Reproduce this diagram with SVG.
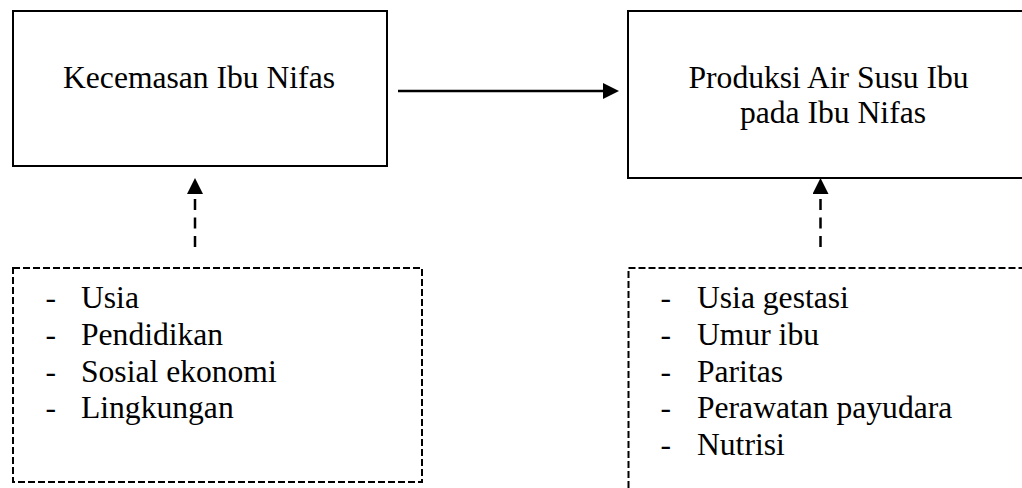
<svg xmlns="http://www.w3.org/2000/svg" width="1022" height="488" viewBox="0 0 1022 488">
<style>
.box{fill:none;stroke:#000;stroke-width:2}
.dbox{fill:none;stroke:#000;stroke-width:2;stroke-dasharray:7 3}
.solid{stroke:#000;stroke-width:2.5;fill:none}
.dash{stroke:#000;stroke-width:2.5;fill:none;stroke-dasharray:11 7.5}
</style>
<defs>
<marker id="ah" markerUnits="userSpaceOnUse" markerWidth="16" markerHeight="16" refX="0" refY="7.5" orient="auto" viewBox="0 0 15 15">
<path d="M0,0 L15,7.5 L0,15 z" fill="#000"/>
</marker>
</defs>
<rect width="1022" height="488" fill="#fff"/>
<g id="connectors">
<line class="solid" x1="398" y1="91" x2="603" y2="91" marker-end="url(#ah)"/>
<line class="dash" x1="195" y1="247" x2="195" y2="194" marker-end="url(#ah)"/>
<line class="dash" x1="820.5" y1="247" x2="820.5" y2="194" marker-end="url(#ah)"/>
</g>
<g font-family="Liberation Serif, Times New Roman, serif" font-size="31.6" fill="#000">
<g id="kecemasan">
<rect class="box" x="13" y="11" width="374" height="155"/>
<text text-anchor="middle" x="199" y="88">Kecemasan Ibu Nifas</text>
</g>
<g id="produksi">
<rect class="box" x="628" y="11" width="410" height="167"/>
<text text-anchor="middle" x="828.5" y="88">Produksi Air Susu Ibu</text>
<text text-anchor="middle" x="833" y="123">pada Ibu Nifas</text>
</g>
<g id="faktor-kecemasan">
<rect class="dbox" x="13" y="268" width="409" height="214"/>
<text x="45.5" y="308">-</text><text x="81" y="308">Usia</text>
<text x="45.5" y="345">-</text><text x="81" y="345">Pendidikan</text>
<text x="45.5" y="381.5">-</text><text x="81" y="381.5">Sosial ekonomi</text>
<text x="45.5" y="418">-</text><text x="81" y="418">Lingkungan</text>
</g>
<g id="faktor-produksi">
<rect class="dbox" x="628.5" y="268" width="420" height="250"/>
<text x="660.5" y="308">-</text><text x="697" y="308">Usia gestasi</text>
<text x="660.5" y="345">-</text><text x="697" y="345">Umur ibu</text>
<text x="660.5" y="381.5">-</text><text x="697" y="381.5">Paritas</text>
<text x="660.5" y="418">-</text><text x="697" y="418">Perawatan payudara</text>
<text x="660.5" y="455">-</text><text x="697" y="455">Nutrisi</text>
</g>
</g>
</svg>
